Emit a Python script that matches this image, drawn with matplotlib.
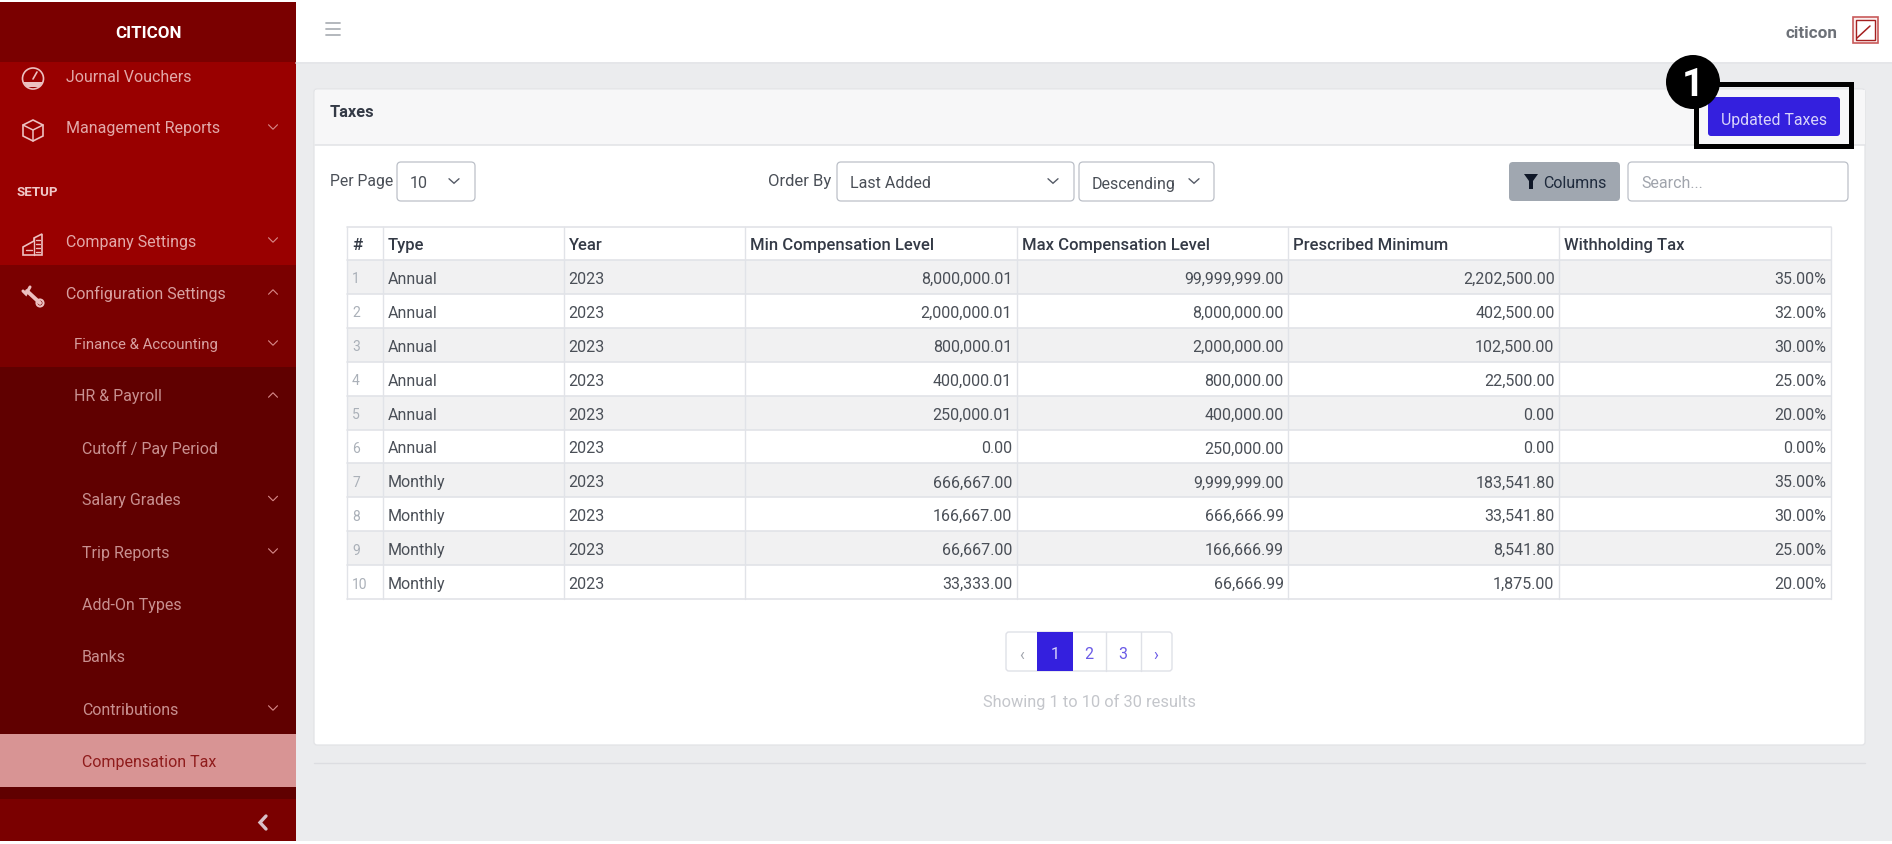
import matplotlib
matplotlib.use("Agg")
import matplotlib.pyplot as plt
from matplotlib.patches import Rectangle, FancyBboxPatch, Polygon, Circle

plt.rcParams['font.family'] = ['Roboto', 'DejaVu Sans']

# ---- data ----
columns = ["#", "Type", "Year", "Min Compensation Level", "Max Compensation Level",
           "Prescribed Minimum", "Withholding Tax"]
row_ids = ["1", "2", "3", "4", "5", "6", "7", "8", "9", "10"]
types = ["Annual"] * 6 + ["Monthly"] * 4
years = ["2023"] * 10
min_comp = ["8,000,000.01", "2,000,000.01", "800,000.01", "400,000.01", "250,000.01",
            "0.00", "666,667.00", "166,667.00", "66,667.00", "33,333.00"]
max_comp = ["99,999,999.00", "8,000,000.00", "2,000,000.00", "800,000.00", "400,000.00",
            "250,000.00", "9,999,999.00", "666,666.99", "166,666.99", "66,666.99"]
prescribed = ["2,202,500.00", "402,500.00", "102,500.00", "22,500.00", "0.00",
              "0.00", "183,541.80", "33,541.80", "8,541.80", "1,875.00"]
withholding = ["35.00%", "32.00%", "30.00%", "25.00%", "20.00%",
               "0.00%", "35.00%", "30.00%", "25.00%", "20.00%"]
menu_top = ["Journal Vouchers", "Management Reports"]
menu_setup = ["Company Settings", "Configuration Settings"]
menu_sub = ["Finance & Accounting", "HR & Payroll"]
menu_leaf = ["Cutoff / Pay Period", "Salary Grades", "Trip Reports", "Add-On Types",
             "Banks", "Contributions"]
pages = ["1", "2", "3"]

W, H = 1892, 845
fig = plt.figure(figsize=(W / 100, H / 100), dpi=100, facecolor="#ffffff")
ax = fig.add_axes([0, 0, 1, 1])
ax.set_xlim(0, W)
ax.set_ylim(H, 0)
ax.axis("off")

FS = 11.5
SB = 11.5
TXT = "#4a4f57"
HEAD = "#343a46"
LINE = "#e1e3e8"


def rect(x0, y0, x1, y1, fc, ec="none", lw=0, z=1):
    ax.add_patch(Rectangle((x0, y0), x1 - x0, y1 - y0, fc=fc, ec=ec, lw=lw, zorder=z))


def rrect(x0, y0, x1, y1, fc, ec="none", lw=0, r=4, z=2):
    ax.add_patch(FancyBboxPatch((x0, y0), x1 - x0, y1 - y0,
                                boxstyle=f"round,pad=0,rounding_size={r}",
                                fc=fc, ec=ec, lw=lw, zorder=z))


def text(x, y, s, color=TXT, size=FS, ha="left", weight="normal", z=5):
    ax.text(x, y, s, color=color, fontsize=size, ha=ha, va="center_baseline",
            fontweight=weight, zorder=z)


def line(xs, ys, color, lw=1.0, z=3):
    ax.plot(xs, ys, color=color, lw=lw, zorder=z, solid_capstyle="round",
            solid_joinstyle="miter")


def chevron(x, y, color, up=False, w=4.5, h=4.5, lw=0.8):
    d = -h if up else h
    line([x - w, x, x + w], [y - d / 2, y + d / 2, y - d / 2], color, lw, z=6)


# ---- page background ----
rect(0, 3, W, 842, "#ebecee", z=0)
rect(296, 3, W, 63, "#ffffff")
line([296, W], [63.5, 63.5], "#e4e5e8", 1.2)

# ---- sidebar ----
rect(0, 3, 296, 842, "#990000")
rect(0, 3, 296, 63, "#7a0000")
rect(0, 266, 296, 368, "#7a0000")
rect(0, 368, 296, 800, "#600000")
rect(0, 735, 296, 788, "#d89494")
rect(0, 800, 296, 842, "#7a0000")
text(148, 31.5, "CITICON", "#ffffff", 12.2, "center", "bold")

SIDE = "#e2a9a9"
SIDE2 = "#d8a0a0"
SIDE3 = "#c89090"
CHEV = "#d88a8a"
text(65.5, 76.5, menu_top[0], SIDE, SB)
text(65.5, 127.5, menu_top[1], SIDE, SB)
text(16.5, 191.5, "SETUP", "#f0c8c8", 9.6, weight="bold")
text(65.5, 240.5, menu_setup[0], SIDE, SB)
text(65.5, 292, menu_setup[1], SIDE2, SB)
text(74, 344, menu_sub[0], SIDE2, 10.7)
text(74, 395, menu_sub[1], SIDE3, SB)
leaf_y = [447, 499.5, 552, 604, 656.5, 709]
leaf_chev = [False, True, True, False, False, True]
for name, y, c in zip(menu_leaf, leaf_y, leaf_chev):
    text(82, y, name, SIDE3, SB)
    if c:
        chevron(273, y, CHEV)
text(82, 761.5, "Compensation Tax", "#8f1c1c", SB)
chevron(273, 128, CHEV)
chevron(273, 241, CHEV)
chevron(273, 293, CHEV, up=True)
chevron(273, 344, CHEV)
chevron(273, 396, CHEV, up=True)
line([266, 260, 266], [817, 823.5, 830], "#d8c0c8", 2.4, z=6)

# sidebar icons
ICON = "#ecc0c0"
ax.add_patch(Circle((33, 79.5), 10.5, fc="none", ec=ICON, lw=1.2, zorder=6))
ax.add_patch(Polygon([(23, 83), (43, 83), (39, 88), (27, 88)], fc=ICON, ec="none", zorder=6))
line([33, 37], [80, 73], ICON, 1.2, z=7)
ax.add_patch(Polygon([(33, 121), (43, 126), (43, 137), (33, 142), (23, 137), (23, 126)],
                     fc="none", ec=ICON, lw=1.2, zorder=6))
line([23, 33, 43], [126, 131, 126], ICON, 1.1, z=7)
line([33, 33], [131, 142], ICON, 1.1, z=7)
ax.add_patch(Polygon([(34, 242), (34, 239), (42, 235), (42, 256), (23, 256), (23, 248)],
                     fc="none", ec=ICON, lw=1.2, zorder=6))
line([34, 34], [239, 256], ICON, 1.0, z=7)
for yy in (241, 245, 249, 253):
    line([36, 40], [yy, yy], ICON, 1.0, z=7)
line([26, 32], [251, 251], ICON, 1.0, z=7)
line([27, 40], [292, 304], ICON, 2.8, z=6)
line([23, 26, 30], [292, 295, 288], ICON, 2.2, z=6)
ax.add_patch(Circle((40, 304), 3.5, fc="none", ec=ICON, lw=1.5, zorder=7))

# ---- top bar ----
for y in (24, 30, 36):
    line([326, 340], [y, y], "#aeb2b8", 1.3)
text(1837, 32, "citicon", "#6d7178", 12.3, "right", "bold")
rect(1853, 17.5, 1878, 44, "#fbeeee", "#c85a5a", 1.2)
rect(1856, 21, 1875, 41, "#ffffff", "#a52020", 1.0)
line([1857, 1870], [39, 27], "#a52020", 1.1)

# ---- card ----
rrect(314, 90, 1865, 746, "#ffffff", "#e2e3e6", 0.9, r=3, z=1)
rect(315, 91, 1864.5, 146, "#f7f7f8", z=1.5)
line([314.5, 1864.5], [146, 146], "#e2e3e6", 1.1)
text(330, 111, "Taxes", HEAD, 11.8, weight="bold")
line([314, W - 27], [764, 764], "#dcdde1", 1.0, z=1)

# button + annotation
rrect(1708, 98, 1840, 137, "#3420de", r=3)
text(1774, 118.5, "Updated Taxes", "#d8d4fa", 11.4, "center")
rect(1696, 85, 1851, 147, "none", "#000000", 3.6, z=7)
ax.add_patch(Circle((1693, 83), 27, fc="#000000", ec="none", zorder=8))
text(1693, 82, "1", "#ffffff", 28, "center", "bold", z=9)

# ---- filter row ----
BORDER = "#bcc0c8"
text(330, 180, "Per Page", TXT, 11.3)
rrect(397, 163, 475, 202, "#ffffff", BORDER, 0.9)
text(410, 182.5, "10", TXT, FS)
chevron(454, 182, "#555b66", w=5, h=4.5, lw=1.0)
text(768, 180, "Order By", TXT, 12)
rrect(837, 163, 1074, 202, "#ffffff", BORDER, 0.9)
text(850, 182.5, "Last Added", TXT, FS)
chevron(1053, 182, "#555b66", w=5, h=4.5, lw=1.0)
rrect(1079, 163, 1214, 202, "#ffffff", BORDER, 0.9)
text(1092, 182.5, "Descending", TXT, FS)
chevron(1194, 182, "#555b66", w=5, h=4.5, lw=1.0)
rrect(1509, 163, 1620, 202, "#a0a7b0", r=4)
ax.add_patch(Polygon([(1524, 175), (1538, 175), (1533, 182), (1533, 190), (1529, 190), (1529, 182)],
                     fc="#101828", ec="none", zorder=5))
text(1543, 182.5, "Columns", "#1e2a3c", FS)
rrect(1628, 163, 1848, 202, "#ffffff", BORDER, 0.9)
text(1641, 182.5, "Search...", "#a0a4ac", FS)

# ---- table ----
col_x = [347, 383, 563.5, 745, 1016.5, 1288, 1559, 1831]
T0, H1, ROW = 228, 261, 33.9
row_edges = [H1 + ROW * i for i in range(len(row_ids) + 1)]
for i, (y0, y1) in enumerate(zip(row_edges[:-1], row_edges[1:])):
    rect(col_x[0], y0, col_x[-1], y1, "#f1f1f2" if i % 2 == 0 else "#ffffff", z=2)
for y in [T0] + row_edges:
    line([col_x[0], col_x[-1]], [y, y], LINE, 1.2, z=3)
for x in col_x:
    line([x, x], [T0, row_edges[-1]], LINE, 1.0, z=3)
for x, name in zip(col_x[:-1], columns):
    text(x + 5, (T0 + H1) / 2 - 0.5, name, HEAD, 12, weight="medium")
for i in range(len(row_ids)):
    y = row_edges[i] + ROW / 2
    text(col_x[0] + 5, y, row_ids[i], "#aab0b8", 10)
    text(col_x[1] + 5, y, types[i])
    text(col_x[2] + 5, y, years[i])
    for j, vals in enumerate((min_comp, max_comp, prescribed, withholding)):
        text(col_x[3 + j + 1] - 4.5, y, vals[i], ha="right")

# ---- pagination ----
rrect(1006, 633, 1172, 672, "#ffffff", "#dfe1e7", 1.0, r=3)
rect(1037, 633, 1073, 672, "#3420de", z=3)
for x in (1106, 1141):
    line([x, x], [633, 672], "#dfe1e7", 1.0)
text(1022, 654, "‹", "#a0a4ac", FS, "center")
text(1055, 653, pages[0], "#d8d4fa", FS, "center")
text(1089, 653, pages[1], "#6a5ae6", FS, "center")
text(1123, 653, pages[2], "#6a5ae6", FS, "center")
text(1156, 654, "›", "#6a5ae6", FS, "center")
text(1089, 700, "Showing 1 to 10 of 30 results", "#c4c6cb", 11.8, "center")

fig.savefig("out.png", dpi=100, facecolor="#ffffff")
